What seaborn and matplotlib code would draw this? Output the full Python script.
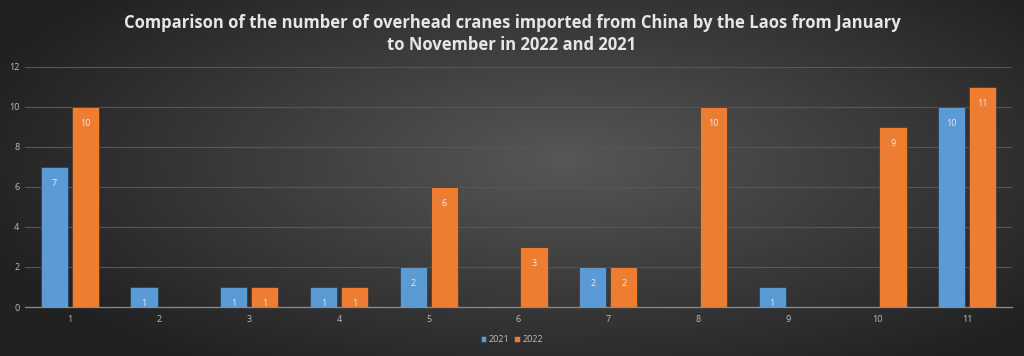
import numpy as np
import pandas as pd
import seaborn as sns
from matplotlib import pyplot as plt

months = ['1', '2', '3', '4', '5', '6', '7', '8', '9', '10', '11']
y2021 = [7, 1, 1, 1, 2, 0, 2, 0, 1, 0, 10]
y2022 = [10, 0, 1, 1, 6, 3, 2, 10, 0, 9, 11]
years = ['2021', '2022']
colors = ['#5b9bd5', '#ed7d31']
title = ('Comparison of the number of overhead cranes imported from China by the Laos from January\n'
         'to November in 2022 and 2021')

df = pd.DataFrame({
    'month': months * 2,
    'count': y2021 + y2022,
    'year': [years[0]] * len(months) + [years[1]] * len(months),
})

sns.set_style('dark')
plt.rcParams['font.family'] = ['Open Sans', 'DejaVu Sans']

fig = plt.figure(figsize=(10.24, 3.56), dpi=100)

# radial dark background, lighter toward the middle
bg = fig.add_axes([0, 0, 1, 1], zorder=-10)
yy, xx = np.mgrid[-1:1:200j, -1:1:600j]
r = np.sqrt(((xx - 0.1) / 1.2) ** 2 + ((yy + 0.1) / 1.4) ** 2)
g = 0.13 + 0.21 * np.clip(1 - r, 0, 1)
bg.imshow(np.dstack([g, g, g]), aspect='auto', extent=[0, 1, 0, 1])
bg.axis('off')

ax = fig.add_axes([0.0244, 0.1376, 0.9639, 0.6744])
ax.patch.set_alpha(0)
sns.barplot(data=df, x='month', y='count', hue='year', hue_order=years,
            palette=colors, saturation=1, width=0.69, gap=0.12, ax=ax,
            edgecolor='#2e2e2e', linewidth=0.4, legend=True)

for cont, vals in zip(ax.containers, [y2021, y2022]):
    labels = [str(v) if v else '' for v in vals]
    ax.bar_label(cont, labels=labels, padding=-15, color='#ececec', fontsize=6.5)

ax.set_ylim(0, 12)
ax.set_yticks(range(0, 13, 2))
ax.set_xlim(-0.5, 10.5)
ax.grid(axis='y', color='#575757', linewidth=0.8)
ax.grid(axis='x', visible=False)
ax.set_axisbelow(True)
for s in ['top', 'right', 'left']:
    ax.spines[s].set_visible(False)
ax.spines['bottom'].set_color('#8c8c8c')
ax.spines['bottom'].set_linewidth(0.9)
ax.tick_params(axis='both', colors='#bfbfbf', labelsize=6.5, length=0, pad=6)
ax.tick_params(axis='y', pad=4)
ax.set_xlabel('')
ax.set_ylabel('')

h, l = ax.get_legend_handles_labels()
ax.legend_.remove()
fig.legend(h, l, loc='center', bbox_to_anchor=(0.5, 0.045), ncol=2, frameon=False,
           fontsize=6.5, labelcolor='#bfbfbf', handlelength=0.6, handleheight=0.6,
           handletextpad=0.3, columnspacing=0.5)

fig.text(0.5, 0.905, title, ha='center', va='center', color='#e6e6e6', fontsize=12,
         fontweight='bold', linespacing=1.3)

fig.savefig('out.png', dpi=100)
